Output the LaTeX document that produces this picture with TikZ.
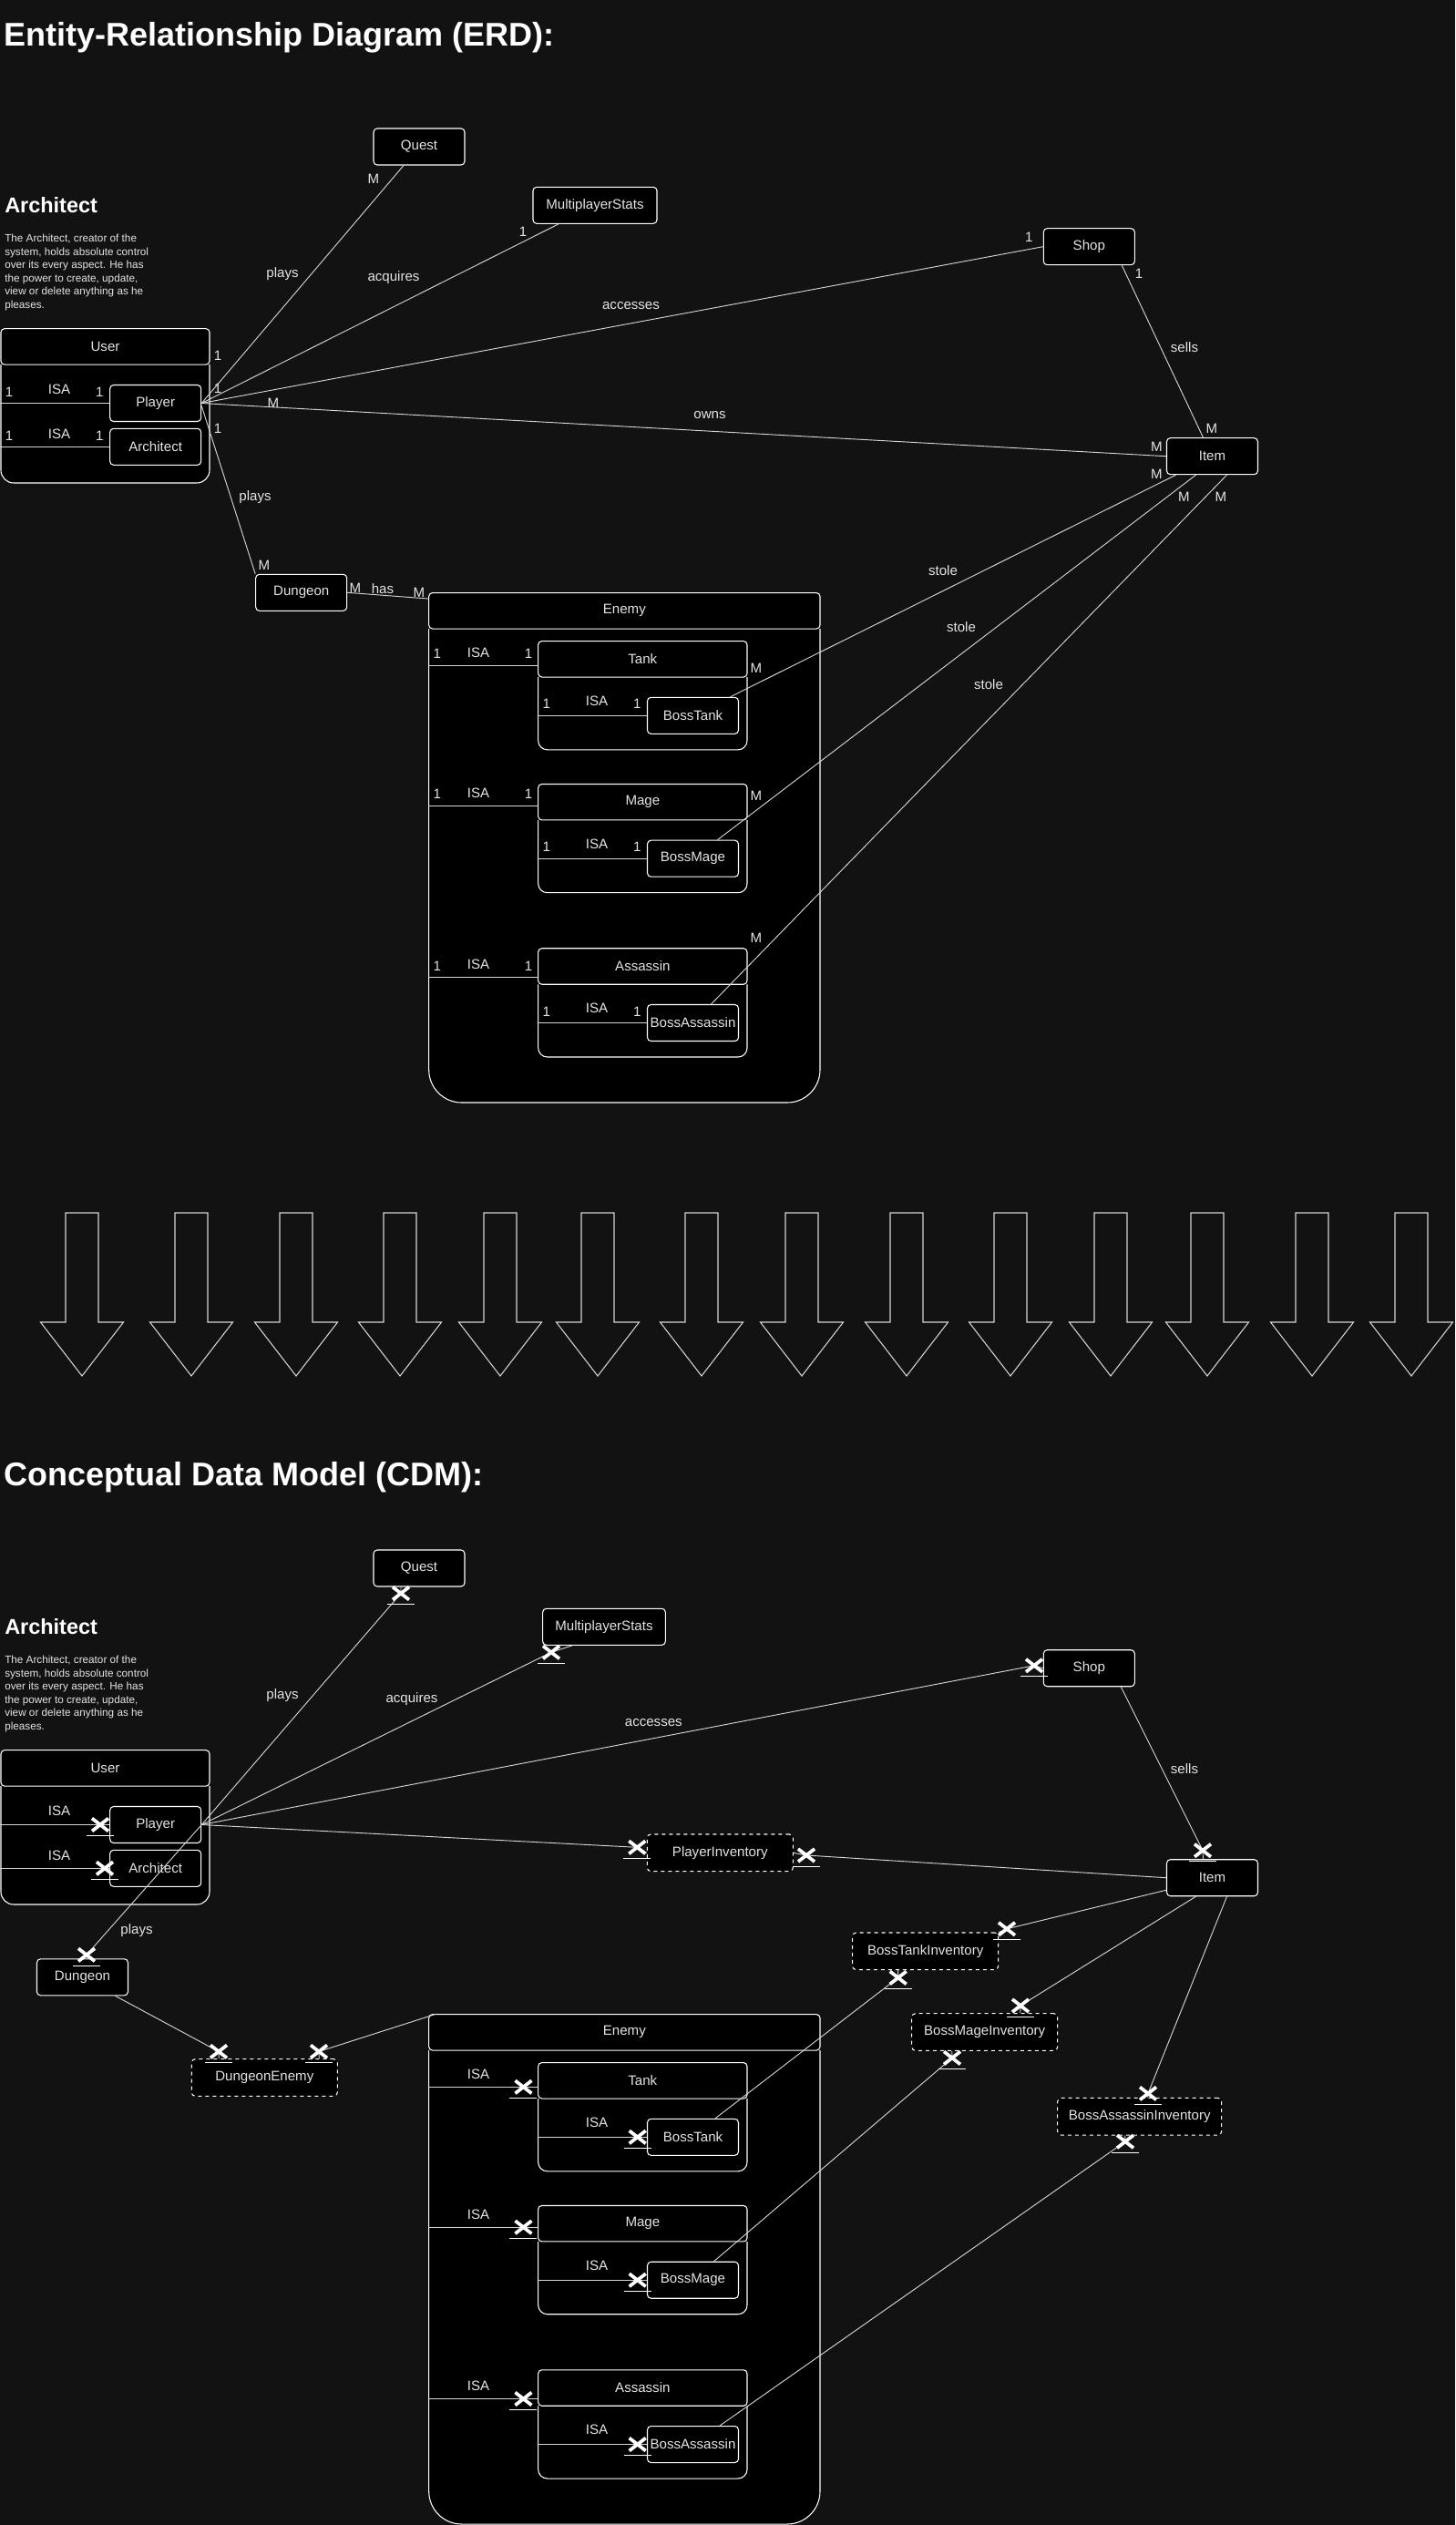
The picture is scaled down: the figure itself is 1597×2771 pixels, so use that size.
\documentclass[tikz,border=0pt]{standalone}
\usepackage{fontspec}
\setmainfont{Liberation Sans}
\usetikzlibrary{calc}

\definecolor{bgc}{HTML}{121212}
\definecolor{txt}{HTML}{E4E4E4}
\definecolor{lnc}{HTML}{D4D4D4}

\tikzset{
  ent/.style={draw=white, fill=black, rounded corners=3pt, line width=0.8pt,
    minimum width=75pt, minimum height=30pt, inner sep=0pt, text=txt,
    font=\fontsize{11.3}{13.6}\selectfont},
  weak/.style={ent, dashed, minimum width=120pt, minimum height=30.5pt},
  hdr/.style={ent, minimum height=29.6pt},
  body/.style={draw=white, fill=black, line width=0.8pt},
  conn/.style={draw=lnc, line width=0.7pt},
  lbl/.style={text=txt, inner sep=0pt, font=\fontsize{11.3}{13.6}\selectfont},
  ttl/.style={text=white, inner sep=0pt, anchor=base west, font=\fontsize{27}{32}\selectfont\bfseries},
  hd/.style={text=white, inner sep=0pt, anchor=base west, font=\fontsize{17.6}{21}\selectfont\bfseries},
  desc/.style={text=txt, inner sep=0pt, anchor=north west, align=left, font=\fontsize{8.8}{10.9}\selectfont},
  arw/.style={draw=lnc, line width=0.8pt},
  exmark/.pic={
    \draw[white, line width=2.8pt] (-9,-7) -- (9,7) (-9,7) -- (9,-7);
    \draw[white, line width=0.7pt] (-15,12) -- (15,12);
  }
}

\begin{document}
\begin{tikzpicture}[x=0.75pt,y=-0.75pt]
\fill[bgc] (0,0) rectangle (1597,2771);
\useasboundingbox (0,0) rectangle (1597,2771);

% ---------------- ERD ----------------
\node[ttl] (erdtitle) at (4,50) {Entity-Relationship Diagram (ERD):};
\node[hd] (archhead) at (5,233.5) {Architect};
\node[desc] (archdesc) at (5,257) {The Architect, creator of the\\system, holds absolute control\\over its every aspect. He has\\the power to create, update,\\view or delete anything as he\\pleases.};

\node[ent] (quest) at (460,161) {Quest};
\node[ent, minimum width=102pt] (mstats) at (653,225.3) {MultiplayerStats};
\node[ent] (shop) at (1195.3,270.7) {Shop};
\node[ent] (item) at (1330.5,500.7) {Item};

\filldraw[body, rounded corners=10.5pt] (1,400) -- (1,530) -- (230,530) -- (230,400);
\node[hdr, minimum width=171.75pt] (user) at (115.5,380.4) {User};
\node[ent] (player) at (170.7,442.5) {Player};
\node[ent] (archi) at (170.7,490.3) {Architect};
\draw[conn] ($(player.west)+(-119.7,0)$) -- (player.west);
\draw[conn] ($(archi.west)+(-119.7,0)$) -- (archi.west);
\node[lbl] (cu1) at (10,430) {1};
\node[lbl] (uisa1) at (65,427) {ISA};
\node[lbl] (cu2) at (109.3,430) {1};
\node[lbl] (cu3) at (10,478) {1};
\node[lbl] (uisa2) at (65,476) {ISA};
\node[lbl] (cu4) at (109.3,478) {1};

\node[ent] (dungeon) at (330.7,650.3) {Dungeon};

\filldraw[body, rounded corners=27pt] (470.7,690) -- (470.7,1210) -- (900,1210) -- (900,690);
\node[hdr, minimum width=322pt] (enemy) at (685.35,670.3) {Enemy};

\foreach \nm/\lab/\yy/\dy/\my in {tank/Tank/723.3/7/10, mage/Mage/880.2/4/-7, assassin/Assassin/1060.5/12/-31}{
  \filldraw[body, rounded corners=7.5pt] (590.7,\yy+19.9) -- (590.7,\yy+99.5) -- (820,\yy+99.5) -- (820,\yy+19.9);
  \node[hdr, minimum width=172pt] (\nm) at (705.35,\yy) {\lab};
  \node[ent] (boss\nm) at (760.5,\yy+62) {Boss\lab};
  \draw[conn] ($(\nm.west)+(-120,\dy)$) -- ($(\nm.west)+(0,\dy)$);
  \draw[conn] ($(boss\nm.west)+(-119.6,0)$) -- (boss\nm.west);
  \node[lbl] (\nm-c1) at (479.7,\yy+\dy-12.5) {1};
  \node[lbl] (\nm-isa) at (525,\yy+\dy-14) {ISA};
  \node[lbl] (\nm-c2) at (580,\yy+\dy-12.5) {1};
  \node[lbl] (boss\nm-c1) at (599.7,\yy+49.5) {1};
  \node[lbl] (boss\nm-isa) at (655,\yy+46) {ISA};
  \node[lbl] (boss\nm-c2) at (699.3,\yy+49.5) {1};
  \node[lbl] (\nm-m) at (830,\yy+\my) {M};
}

\draw[conn] (player.east) -- ($(quest.south)+(-17,0)$);
\draw[conn] (player.east) -- ($(mstats.south)+(-40,0)$);
\draw[conn] (player.east) -- (shop.west);
\draw[conn] (player.east) -- (item.west);
\draw[conn] ($(player.east)+(0,3)$) -- (dungeon.north west);
\draw[conn] (dungeon.east) -- ($(enemy.north west)+(0,7)$);
\draw[conn] ($(shop.south)+(36,0)$) -- ($(item.north)+(-10,0)$);
\draw[conn] ($(bosstank.north)+(41,0)$) -- ($(item.south)+(-40,0)$);
\draw[conn] ($(bossmage.north)+(27,0)$) -- ($(item.south)+(-18,0)$);
\draw[conn] ($(bossassassin.north)+(20,0)$) -- ($(item.south)+(16,0)$);

\node[lbl] (cqM) at (410,196) {M};
\node[lbl] (rplays) at (310,301) {plays};
\node[lbl] (racq) at (432,305) {acquires};
\node[lbl] (cms1) at (574,254) {1};
\node[lbl] (cp1) at (239,390) {1};
\node[lbl] (cp2) at (239,426) {1};
\node[lbl] (cp3) at (239,470) {1};
\node[lbl] (racc) at (692.5,335.6) {accesses};
\node[lbl] (csh1) at (1129.3,260.7) {1};
\node[lbl] (cpM) at (300,442.7) {M};
\node[lbl] (rowns) at (779,456) {owns};
\node[lbl] (ciM1) at (1269.3,490.7) {M};
\node[lbl] (csh2) at (1250,300) {1};
\node[lbl] (rsells) at (1300,380.7) {sells};
\node[lbl] (ciM2) at (1330,470) {M};
\node[lbl] (ciM3) at (1269.3,520) {M};
\node[lbl] (ciM4) at (1299.3,545) {M};
\node[lbl] (ciM5) at (1340,545) {M};
\node[lbl] (rplays2) at (280,545.7) {plays};
\node[lbl] (cdM1) at (290,620) {M};
\node[lbl] (cdM2) at (390,645.3) {M};
\node[lbl] (rhas) at (420,645.7) {has};
\node[lbl] (ceM) at (460,650) {M};
\node[lbl] (rstole1) at (1035,625.7) {stole};
\node[lbl] (rstole2) at (1055,688.3) {stole};
\node[lbl] (rstole3) at (1085,750.7) {stole};

% ---------------- arrows ----------------
\foreach \ax in {90,210,325,439,549,656,770,880,995,1109,1219,1325,1440,1549}
  \draw[arw] (\ax-18,1331) -- (\ax+18,1331) -- (\ax+18,1451) -- (\ax+45.5,1451) -- (\ax,1510) -- (\ax-45.5,1451) -- (\ax-18,1451) -- cycle;

% ---------------- CDM ----------------
\node[ttl] (cdmtitle) at (4,1630.7) {Conceptual Data Model (CDM):};
\node[hd] (archhead2) at (5,1793.5) {Architect};
\node[desc] (archdesc2) at (5,1817) {The Architect, creator of the\\system, holds absolute control\\over its every aspect. He has\\the power to create, update,\\view or delete anything as he\\pleases.};

\node[ent] (quest2) at (460,1721) {Quest};
\node[ent, minimum width=101pt] (mstats2) at (663,1785.3) {MultiplayerStats};
\node[ent] (shop2) at (1195.3,1830.7) {Shop};
\node[ent] (item2) at (1330.5,2060.7) {Item};

\filldraw[body, rounded corners=10.5pt] (1,1960) -- (1,2090) -- (230,2090) -- (230,1960);
\node[hdr, minimum width=171.75pt] (user2) at (115.5,1940.4) {User};
\node[ent] (player2) at (170.7,2002.5) {Player};
\node[ent] (archi2) at (170.7,2050.3) {Architect};

\node[ent] (dungeon2) at (90.5,2169.8) {Dungeon};
\node[weak] (pinv) at (790.3,2033.3) {PlayerInventory};
\node[weak] (dungenemy) at (290.3,2280) {DungeonEnemy};
\node[weak] (btinv) at (1015.7,2141.3) {BossTankInventory};
\node[weak] (bminv) at (1080.7,2230) {BossMageInventory};
\node[weak, minimum width=135pt] (bainv) at (1250.7,2322.7) {BossAssassinInventory};

\filldraw[body, rounded corners=27pt] (470.7,2250) -- (470.7,2770) -- (900,2770) -- (900,2250);
\node[hdr, minimum width=322pt] (enemy2) at (685.35,2230.3) {Enemy};

\foreach \nm/\lab/\yy/\dy in {tank/Tank/2283.3/7, mage/Mage/2440.2/4, assassin/Assassin/2620.5/12}{
  \filldraw[body, rounded corners=7.5pt] (590.7,\yy+19.9) -- (590.7,\yy+99.5) -- (820,\yy+99.5) -- (820,\yy+19.9);
  \node[hdr, minimum width=172pt] (\nm2) at (705.35,\yy) {\lab};
  \node[ent] (boss\nm2) at (760.5,\yy+62) {Boss\lab};
  \draw[conn] ($(\nm2.west)+(-120,\dy)$) -- ($(\nm2.west)+(0,\dy)$);
  \draw[conn] ($(boss\nm2.west)+(-119.6,0)$) -- (boss\nm2.west);
  \pic at ($(\nm2.west)+(-15.7,\dy)$) {exmark};
  \pic at ($(boss\nm2.west)+(-10.3,0)$) {exmark};
  \node[lbl] (\nm2-isa) at (525,\yy+\dy-14) {ISA};
  \node[lbl] (boss\nm2-isa) at (655,\yy+46) {ISA};
}

\coordinate (xq) at (440,1748.6);
\coordinate (xd) at (95,2145.3);
\coordinate (xms) at (605,1813.3);
\coordinate (xsh) at (1135,1827.8);
\coordinate (xpl) at (699.3,2027.3);
\coordinate (xpr) at (885,2036);
\coordinate (xit) at (1320,2030.7);
\coordinate (xbt1) at (1105,2116.8);
\coordinate (xbt2) at (985.7,2170.4);
\coordinate (xbm1) at (1120,2201);
\coordinate (xbm2) at (1045,2258.4);
\coordinate (xba1) at (1260,2297.4);
\coordinate (xba2) at (1235,2350.2);
\coordinate (xdl) at (240,2251.4);
\coordinate (xdr) at (350,2251.4);
\coordinate (xip) at (110,2002.5);
\coordinate (xia) at (115,2050.3);

\draw[conn] ($(player2.west)+(-119.7,0)$) -- (xip) -- (player2.west);
\draw[conn] ($(archi2.west)+(-119.7,0)$) -- (xia) -- (archi2.west);
\draw[conn] (player2.east) -- (xq) -- ($(quest2.south)+(-20,0)$);
\draw[conn] (player2.east) -- (xd) -- ($(dungeon2.north)+(4.5,0)$);
\draw[conn] (player2.east) -- (xms) -- ($(mstats2.south)+(-35,0)$);
\draw[conn] (player2.east) -- (xsh) -- (shop2.west);
\draw[conn] (player2.east) -- (xpl) -- (pinv.west);
\draw[conn] (pinv.east) -- (xpr) -- (item2.west);
\draw[conn] ($(shop2.south)+(35,0)$) -- (xit) -- ($(item2.north)+(-10,0)$);
\draw[conn] ($(item2.south west)+(0,-7)$) -- (xbt1) -- (btinv.north east);
\draw[conn] ($(item2.south)+(-18,0)$) -- (xbm1) -- ($(bminv.north)+(39,0)$);
\draw[conn] ($(item2.south)+(16,0)$) -- (xba1) -- ($(bainv.north)+(9,0)$);
\draw[conn] ($(btinv.south)+(-30,0)$) -- (xbt2) -- ($(bosstank2.north)+(24.5,0)$);
\draw[conn] ($(bminv.south)+(-36,0)$) -- (xbm2) -- ($(bossmage2.north)+(23,0)$);
\draw[conn] ($(bainv.south)+(-16,0)$) -- (xba2) -- ($(bossassassin2.north)+(29.5,0)$);
\draw[conn] ($(dungeon2.south)+(36,0)$) -- (xdl) -- ($(dungenemy.north)+(-50,0)$);
\draw[conn] ($(dungenemy.north)+(60,0)$) -- (xdr) -- ($(enemy2.north west)+(9,0)$);

\foreach \xm in {xq,xd,xms,xsh,xpl,xpr,xit,xbt1,xbt2,xbm1,xbm2,xba1,xba2,xdl,xdr,xip,xia}
  \pic at (\xm) {exmark};

\node[lbl] (rplays3) at (310,1860.8) {plays};
\node[lbl] (racq2) at (452,1864.9) {acquires};
\node[lbl] (racc2) at (717.3,1890.7) {accesses};
\node[lbl] (rsells2) at (1300,1940.7) {sells};
\node[lbl] (rplays4) at (150,2118.8) {plays};
\node[lbl] (uisa3) at (65,1987) {ISA};
\node[lbl] (uisa4) at (65,2036) {ISA};
\end{tikzpicture}
\end{document}
